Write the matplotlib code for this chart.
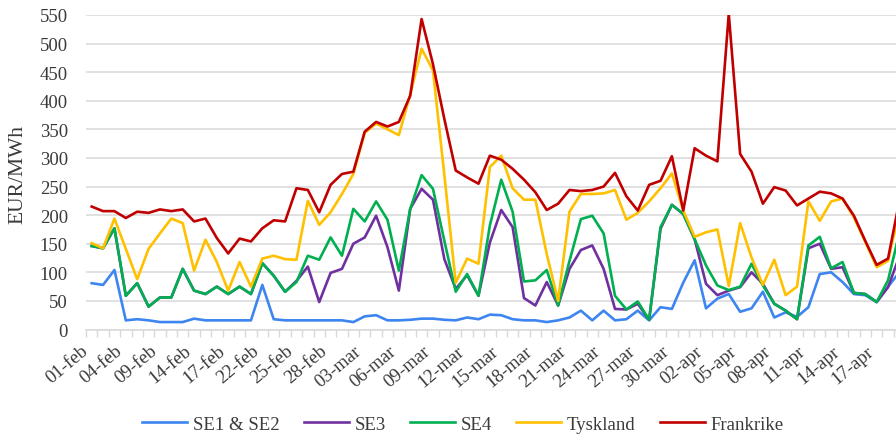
import numpy as np
import matplotlib
matplotlib.use("Agg")
import matplotlib.pyplot as plt

plt.rcParams['font.family'] = ['Liberation Serif', 'DejaVu Serif']

# ===============================
# DATA (EUR/MWh, daily)
# ===============================
tick_labels = ["01-feb", "04-feb", "09-feb", "14-feb", "17-feb", "22-feb", "25-feb", "28-feb",
               "03-mar", "06-mar", "09-mar", "12-mar", "15-mar", "18-mar", "21-mar", "24-mar",
               "27-mar", "30-mar", "02-apr", "05-apr", "08-apr", "11-apr", "14-apr", "17-apr"]
label_step = 3

se12 = [81, 78, 104, 16, 18, 16, 13, 13, 13, 19, 16, 16, 16, 16, 16, 78, 18, 16,
        16, 16, 16, 16, 16, 13, 23, 25, 16, 16, 17, 19, 19, 17, 16, 21, 18, 26,
        25, 18, 16, 16, 13, 16, 21, 33, 16, 33, 16, 18, 33, 16, 39, 36, 82, 121,
        37, 54, 62, 31, 37, 66, 21, 30, 22, 39, 97, 100, 83, 62, 60, 48, 75, 100]

se3 = [146, 142, 177, 59, 81, 40, 56, 56, 106, 68, 62, 75, 62, 75, 62, 116, 94, 66,
       85, 110, 48, 99, 106, 150, 161, 199, 144, 68, 211, 246, 227, 123, 71, 95, 59, 152,
       209, 179, 55, 42, 83, 42, 106, 139, 147, 106, 36, 35, 45, 17, 176, 218, 202, 158,
       80, 60, 68, 74, 100, 80, 45, 33, 18, 142, 150, 106, 109, 64, 62, 48, 74, 128]

se4 = [146, 142, 177, 59, 81, 40, 56, 56, 106, 68, 62, 75, 62, 75, 62, 116, 94, 66,
       83, 129, 122, 161, 129, 211, 189, 224, 192, 103, 211, 270, 246, 155, 66, 97, 59, 182,
       262, 206, 84, 86, 104, 42, 120, 193, 199, 168, 59, 35, 49, 17, 179, 218, 202, 158,
       112, 77, 69, 75, 115, 77, 45, 33, 18, 147, 162, 107, 118, 64, 62, 48, 86, 169]

tyskland = [151, 142, 194, 141, 88, 141, 168, 194, 186, 103, 157, 118, 68, 118, 75, 124, 129, 123,
            122, 225, 183, 205, 237, 272, 344, 360, 350, 340, 411, 491, 453, 270, 82, 124, 115, 284,
            304, 247, 227, 227, 132, 50, 206, 237, 237, 238, 244, 192, 204, 224, 247, 273, 208, 162,
            170, 175, 76, 186, 126, 78, 122, 60, 75, 224, 190, 224, 229, 196, 153, 109, 120, 208]

frankrike = [215, 207, 207, 195, 206, 204, 210, 207, 210, 189, 194, 160, 133, 159, 154, 177, 191, 189,
             247, 244, 205, 253, 272, 276, 346, 363, 355, 363, 409, 543, 464, 368, 278, 266, 255, 304,
             297, 281, 262, 240, 209, 220, 244, 242, 244, 250, 274, 233, 208, 253, 260, 303, 208, 317,
             304, 294, 552, 307, 276, 220, 249, 243, 217, 229, 241, 238, 229, 199, 155, 113, 124, 225]

series = [("SE1 & SE2", se12, "#3D85F0"),
          ("SE3", se3, "#7030A0"),
          ("SE4", se4, "#00B050"),
          ("Tyskland", tyskland, "#FFC000"),
          ("Frankrike", frankrike, "#C00000")]

# ===============================
# FIGURE
# ===============================
W, H = 896, 439
fig = plt.figure(figsize=(W / 100, H / 100), dpi=100)
ax = fig.add_axes([86 / W, (H - 330.5) / H, (W - 86) / W, 314.5 / H])

x = np.arange(len(frankrike))
for name, vals, col in series:
    ax.plot(x, vals, color=col, lw=1.9, label=name, solid_joinstyle='round')

ax.set_xlim(-0.5, 70.7)
ax.set_ylim(0, 550)

ax.set_yticks(range(0, 551, 50))
ax.yaxis.grid(True, color='#D9D9D9', lw=1.1)
ax.set_axisbelow(True)
ax.tick_params(axis='y', length=0, pad=13, labelsize=13.5, labelcolor='#3A3A3A')

ax.set_xticks(np.arange(0, len(tick_labels) * label_step, label_step))
ax.set_xticklabels(tick_labels, rotation=40, ha='right', va='top')
ax.set_xticks(np.arange(-0.5, 71, 1), minor=True)
ax.tick_params(axis='x', which='major', length=0, pad=9, labelsize=13.5, labelcolor='#3A3A3A')
ax.tick_params(axis='x', which='minor', length=5, width=1, color='#D9D9D9')

for s in ['top', 'right', 'left']:
    ax.spines[s].set_visible(False)
ax.spines['bottom'].set_color('#D9D9D9')
ax.spines['bottom'].set_linewidth(1.1)

fig.text(18 / W, 1 - 175 / H, "EUR/MWh", rotation=90, ha='center', va='center',
         fontsize=15.5, color='#3A3A3A')

ax.legend(loc='center', bbox_to_anchor=(463 / W, 1 - 425 / H), bbox_transform=fig.transFigure,
          ncol=5, frameon=False, fontsize=13.5, handlelength=2.4, columnspacing=1.3,
          handletextpad=0.3, labelcolor='#3A3A3A')

fig.savefig("out.png", dpi=100)
